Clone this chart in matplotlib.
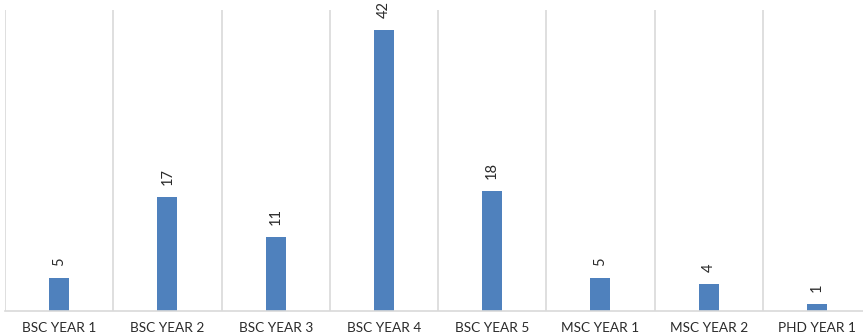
import matplotlib
matplotlib.use("Agg")
import matplotlib.pyplot as plt
import numpy as np

categories = ["BSC YEAR 1", "BSC YEAR 2", "BSC YEAR 3", "BSC YEAR 4",
              "BSC YEAR 5", "MSC YEAR 1", "MSC YEAR 2", "PHD YEAR 1"]
counts = [5, 17, 11, 42, 18, 5, 4, 1]

W, H = 863, 336
fig = plt.figure(figsize=(W / 100, H / 100), dpi=100)
# plot area runs slightly past the right edge of the canvas
ax = fig.add_axes([5 / W, 25 / H, 866 / W, 301 / H])

x = np.arange(len(categories))
bar_color = "#4F81BD"
grid_color = "#D9D9D9"
text_color = "#2B2B2B"

ax.bar(x, counts, width=0.185, color=bar_color, zorder=3)

ax.set_xlim(-0.5, len(categories) - 0.5)
ax.set_ylim(0, 45)

# vertical separators between categories
for b in np.arange(-0.5, len(categories) + 0.5, 1):
    ax.axvline(b, color=grid_color, linewidth=1.2, zorder=1)

for s in ["top", "right", "left"]:
    ax.spines[s].set_visible(False)
ax.spines["bottom"].set_color(grid_color)
ax.spines["bottom"].set_linewidth(1.2)
ax.spines["bottom"].set_zorder(4)

ax.set_yticks([])
ax.set_xticks(x)
ax.set_xticklabels(categories, fontsize=9.8, color=text_color, family="Lato")
ax.tick_params(axis="x", length=0, pad=8)

for xi, v in zip(x, counts):
    ax.annotate(str(v), (xi, v), xytext=(0, 12), textcoords="offset pixels",
                rotation=90, ha="center", va="bottom", fontsize=10.5,
                color=text_color, family="Lato")

fig.savefig("out.png", dpi=100)
